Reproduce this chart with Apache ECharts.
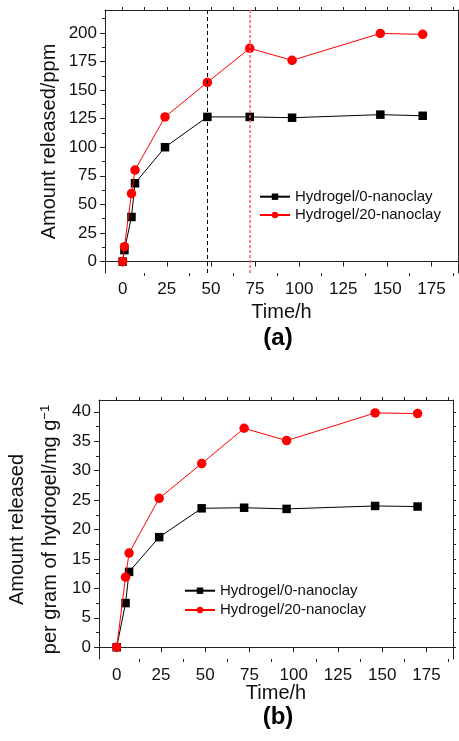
<!DOCTYPE html>
<html>
<head>
<meta charset="utf-8">
<script src="https://cdn.jsdelivr.net/npm/echarts@6/dist/echarts.min.js"></script>
<style>
html,body{margin:0;padding:0;background:#fff;}
#chart{width:459px;height:741px;}
</style>
</head>
<body>
<div id="chart"></div>
<script>
// ---------- data ----------
const seriesNames = ['Hydrogel/0-nanoclay', 'Hydrogel/20-nanoclay'];

// Panel (a): amount released (ppm) vs time (h)
const timeA = [0, 1, 5, 7, 24, 48, 72, 96, 146, 170];
const releasedA0 = [0, 10, 39, 68.5, 100, 126.5, 126.5, 125.8, 128.5, 127.5];
const releasedA20 = [0, 13, 59.5, 80, 126.5, 156.7, 186.5, 176, 199.5, 198.7];

// Panel (b): amount released per gram of hydrogel (mg g^-1) vs time (h)
const timeB = [0, 5, 7, 24, 48, 72, 96, 146, 170];
const releasedB0 = [0, 7.5, 12.8, 18.7, 23.6, 23.7, 23.5, 24.0, 23.9];
const releasedB20 = [0, 11.9, 16.0, 25.3, 31.2, 37.2, 35.1, 39.8, 39.7];

// reference lines (h) in panel (a)
const markerTimes = [48, 72];

// tick values
const xTicks = [0, 25, 50, 75, 100, 125, 150, 175];
const xMinor = [12.5, 37.5, 62.5, 87.5, 112.5, 137.5, 162.5, 187.5];
const yTicksA = [0, 25, 50, 75, 100, 125, 150, 175, 200];
const yMinorA = [12.5, 37.5, 62.5, 87.5, 112.5, 137.5, 162.5, 187.5, 212.5];
const yTicksB = [0, 5, 10, 15, 20, 25, 30, 35, 40];
const yMinorB = [2.5, 7.5, 12.5, 17.5, 22.5, 27.5, 32.5, 37.5];

// ---------- chart ----------
const FONT = '"Liberation Sans", Arial, Helvetica, sans-serif';
const AXC = '#222';

function mainX(gi, min, max, nameGap) {
  return {
    type: 'value', gridIndex: gi, position: 'bottom', min: min, max: max,
    axisLine: {show: true, lineStyle: {color: AXC, width: 1}},
    axisTick: {show: true, inside: false, length: 5, customValues: xTicks, lineStyle: {color: AXC}},
    axisLabel: {show: true, customValues: xTicks, margin: 8, color: '#111', fontSize: 17, fontFamily: FONT},
    splitLine: {show: false},
    name: 'Time/h', nameLocation: 'middle', nameGap: nameGap, nameMoveOverlap: false,
    nameTextStyle: {fontSize: 20, fontFamily: FONT, color: '#111', lineHeight: 20}
  };
}
function minorX(gi, min, max, pos, ticks, len, line) {
  return {
    type: 'value', gridIndex: gi, position: pos, min: min, max: max,
    axisLine: {show: line, onZero: false, lineStyle: {color: AXC, width: 1}},
    axisTick: {show: true, inside: false, length: len, customValues: ticks, lineStyle: {color: AXC}},
    axisLabel: {show: false}, splitLine: {show: false}
  };
}
function mainY(gi, min, max, ticks, name, nameGap, lh, rich) {
  return {
    type: 'value', gridIndex: gi, position: 'left', min: min, max: max,
    axisLine: {show: true, onZero: false, lineStyle: {color: AXC, width: 1}},
    axisTick: {show: true, inside: false, length: 5, customValues: ticks, lineStyle: {color: AXC}},
    axisLabel: {show: true, customValues: ticks, margin: 8, color: '#111', fontSize: 17, fontFamily: FONT},
    splitLine: {show: false},
    name: name, nameLocation: 'middle', nameGap: nameGap, nameMoveOverlap: false,
    nameTextStyle: {fontSize: 20, fontFamily: FONT, color: '#111', lineHeight: lh, rich: rich}
  };
}
function minorY(gi, min, max, pos, ticks, len, line) {
  return {
    type: 'value', gridIndex: gi, position: pos, min: min, max: max,
    axisLine: {show: line, onZero: false, lineStyle: {color: AXC, width: 1}},
    axisTick: {show: true, inside: false, length: len, customValues: ticks, lineStyle: {color: AXC}},
    axisLabel: {show: false}, splitLine: {show: false}
  };
}

const allXA = xTicks.concat(xMinor);
const allYA = yTicksA.concat(yMinorA);
const allYB = yTicksB.concat(yMinorB);

function pairs(xs, ys) { return xs.map((x, i) => [x, ys[i]]); }

const blackStyle = {
  type: 'line', symbol: 'rect', symbolSize: 8.5,
  itemStyle: {color: '#000'}, lineStyle: {color: '#000', width: 1},
  emphasis: {disabled: true}, z: 3
};
const redStyle = {
  type: 'line', symbol: 'circle', symbolSize: 9.5,
  itemStyle: {color: '#ff0000'}, lineStyle: {color: '#ff0000', width: 1},
  emphasis: {disabled: true}, z: 4
};

const option = {
  animation: false,
  backgroundColor: '#fff',
  textStyle: {fontFamily: FONT},
  grid: [
    {left: 105, top: 10, width: 353, height: 263, outerBoundsMode: 'none', containLabel: false},
    {left: 99, top: 400, width: 354, height: 259, outerBoundsMode: 'none', containLabel: false}
  ],
  xAxis: [
    mainX(0, -10, 190, 29),
    minorX(0, -10, 190, 'bottom', xMinor, 3, false),
    minorX(0, -10, 190, 'top', allXA, 3, true),
    mainX(1, -10, 190, 24),
    minorX(1, -10, 190, 'bottom', xMinor, 3, false),
    minorX(1, -10, 190, 'top', allXA, 3, true)
  ],
  yAxis: [
    mainY(0, -10, 220, yTicksA, 'Amount released/ppm', 46, 20),
    minorY(0, -10, 220, 'left', yMinorA, 3, false),
    minorY(0, -10, 220, 'right', allYA, 3, true),
    mainY(1, -2, 42, yTicksB, 'Amount released\nper gram of hydrogel/mg g{sup|−1}', 32.5, 32.6,
      {sup: {fontSize: 13, fontFamily: FONT, color: '#111', padding: [0, 0, 9, 0]}}),
    minorY(1, -2, 42, 'left', yMinorB, 3, false),
    minorY(1, -2, 42, 'right', allYB, 3, true)
  ],
  legend: [
    {
      orient: 'vertical', left: 254, top: 182.7, padding: 5, itemWidth: 30, itemHeight: 8, itemGap: 0.3,
      data: seriesNames, selectedMode: false,
      textStyle: {fontSize: 15, fontFamily: FONT, color: '#111', lineHeight: 18}
    },
    {
      orient: 'vertical', left: 179, top: 576.2, padding: 5, itemWidth: 30, itemHeight: 8, itemGap: 0.3,
      data: seriesNames, selectedMode: false,
      textStyle: {fontSize: 15, fontFamily: FONT, color: '#111', lineHeight: 19}
    }
  ],
  graphic: [
    {type: 'text', x: 278, y: 338, style: {text: '(a)', font: 'bold 24px ' + FONT, fill: '#000', textAlign: 'center', textVerticalAlign: 'middle'}},
    {type: 'text', x: 278, y: 717, style: {text: '(b)', font: 'bold 24px ' + FONT, fill: '#000', textAlign: 'center', textVerticalAlign: 'middle'}}
  ],
  series: [
    Object.assign({}, blackStyle, {
      name: seriesNames[0], xAxisIndex: 0, yAxisIndex: 0, data: pairs(timeA, releasedA0),
      markLine: {
        silent: true, symbol: ['none', 'none'], label: {show: false},
        data: [
          {xAxis: markerTimes[0], lineStyle: {color: '#000', type: [4, 3], width: 1}},
          {xAxis: markerTimes[1], lineStyle: {color: '#ff6060', type: [3, 2], width: 1.5}}
        ]
      }
    }),
    Object.assign({}, redStyle, {name: seriesNames[1], xAxisIndex: 0, yAxisIndex: 0, data: pairs(timeA, releasedA20)}),
    Object.assign({}, blackStyle, {name: seriesNames[0], xAxisIndex: 3, yAxisIndex: 3, data: pairs(timeB, releasedB0)}),
    Object.assign({}, redStyle, {name: seriesNames[1], xAxisIndex: 3, yAxisIndex: 3, data: pairs(timeB, releasedB20)})
  ]
};

const chart = echarts.init(document.getElementById('chart'), null, {renderer: 'canvas'});
chart.setOption(option);
</script>
</body>
</html>
